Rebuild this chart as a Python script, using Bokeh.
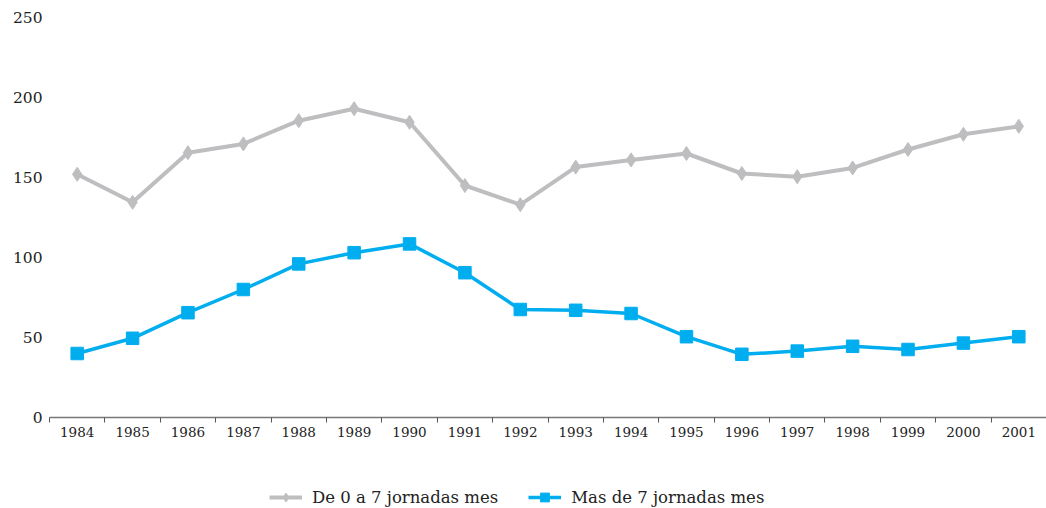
from bokeh.plotting import figure
from bokeh.layouts import column
from bokeh.models import Range1d, FixedTicker, Legend, LegendItem
from bokeh.embed import file_html
from bokeh.resources import INLINE

years = ["1984", "1985", "1986", "1987", "1988", "1989", "1990", "1991", "1992",
         "1993", "1994", "1995", "1996", "1997", "1998", "1999", "2000", "2001"]
de_0_a_7 = [152, 134.5, 165.5, 171, 185.5, 193, 184.5, 145, 133, 156.5, 161, 165,
            152.5, 150.5, 156, 167.5, 177, 182]
mas_de_7 = [40, 49.5, 65.5, 80, 96, 103, 108.5, 90.5, 67.5, 67, 65, 50.5,
            39.5, 41.5, 44.5, 42.5, 46.5, 50.5]
y_ticks = [0, 50, 100, 150, 200, 250]
series_names = ["De 0 a 7 jornadas mes", "Mas de 7 jornadas mes"]

FONT = "DejaVu Serif"
GRAY = "#BEBEC0"
BLUE = "#00AEEF"

xs = [i + 0.5 for i in range(len(years))]

p = figure(width=1046, height=447, output_backend="svg", toolbar_location=None,
           x_range=Range1d(0, len(years)), y_range=Range1d(0, 250),
           min_border_left=49, min_border_right=0, min_border_top=17,
           min_border_bottom=30)
p.outline_line_color = None
p.xgrid.visible = False
p.ygrid.visible = False
p.background_fill_color = "white"
p.border_fill_color = "white"

style1 = dict(line_color=GRAY, line_width=4)
mark1 = dict(marker="diamond", size=14, fill_color=GRAY, line_color=GRAY)
style2 = dict(line_color=BLUE, line_width=3.5)
mark2 = dict(marker="square", size=12.5, fill_color=BLUE, line_color=BLUE)

p.line(xs, de_0_a_7, **style1)
p.scatter(xs, de_0_a_7, **mark1)
p.line(xs, mas_de_7, **style2)
p.scatter(xs, mas_de_7, **mark2)

xa = p.xaxis[0]
xa.ticker = FixedTicker(ticks=xs, minor_ticks=list(range(len(years) + 1)))
xa.major_label_overrides = {x: y for x, y in zip(xs, years)}
xa.major_tick_out = 0
xa.major_tick_in = 0
xa.minor_tick_out = 5
xa.minor_tick_in = 0
xa.minor_tick_line_color = "#555555"
xa.axis_line_color = "#777777"
xa.axis_line_width = 1.5
xa.major_label_standoff = 4
xa.major_label_text_font = FONT
xa.major_label_text_font_size = "13.5px"
xa.major_label_text_color = "#222222"

ya = p.yaxis[0]
ya.ticker = FixedTicker(ticks=y_ticks)
ya.axis_line_color = None
ya.major_tick_line_color = None
ya.minor_tick_line_color = None
ya.major_tick_out = 0
ya.major_label_standoff = 7
ya.major_label_text_font = FONT
ya.major_label_text_font_size = "15.5px"
ya.major_label_text_color = "#222222"

# legend strip: same series drawn off-screen so the legend has glyphs to show
q = figure(width=1046, height=61, output_backend="svg", toolbar_location=None,
           x_range=Range1d(0, len(years)), y_range=Range1d(-1000, -999),
           x_axis_location=None, y_axis_location=None,
           min_border_left=0, min_border_right=0, min_border_top=0, min_border_bottom=0)
q.outline_line_color = None
q.xgrid.visible = False
q.ygrid.visible = False
q.border_fill_color = "white"
k1 = q.line(xs, de_0_a_7, **style1)
k1m = q.scatter(xs, de_0_a_7, **mark1)
k2 = q.line(xs, mas_de_7, **style2)
k2m = q.scatter(xs, mas_de_7, **mark2)

legend = Legend(items=[
    LegendItem(label=series_names[0], renderers=[k1, k1m]),
    LegendItem(label=series_names[1], renderers=[k2, k2m]),
], orientation="horizontal", location=(220, 0))
legend.label_text_font = FONT
legend.label_text_font_size = "16.5px"
legend.label_text_color = "#222222"
legend.glyph_width = 33
legend.glyph_height = 22
legend.label_height = 14
legend.label_standoff = 10
legend.spacing = 30
legend.padding = 0
legend.margin = 0
legend.border_line_color = None
legend.background_fill_alpha = 0
q.add_layout(legend, "center")

layout = column(p, q, spacing=0)
open("out.html", "w").write(file_html(layout, INLINE))
